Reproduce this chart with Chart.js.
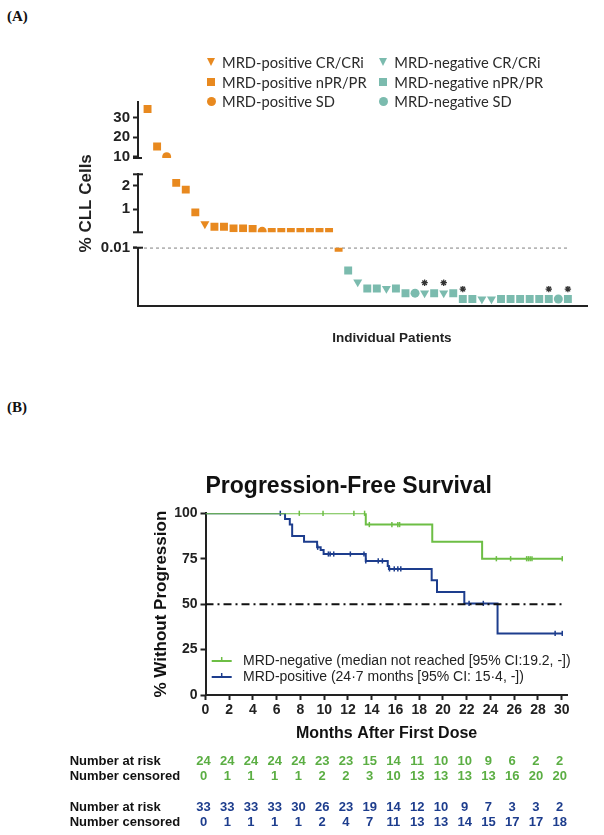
<!DOCTYPE html>
<html>
<head>
<meta charset="utf-8">
<script src="https://cdn.jsdelivr.net/npm/chart.js@4.4.1/dist/chart.umd.min.js"></script>
<style>
  html, body { margin: 0; padding: 0; background: #fff; }
  #page { position: relative; width: 604px; height: 835px; overflow: hidden; }
  .tag { position: absolute; left: 7px; font: bold 15px 'Liberation Serif', 'Times New Roman', serif; color: #111; }
  .box { position: absolute; left: 0; width: 604px; }
  .lg { position: absolute; white-space: nowrap; font: 14.7px Lato, 'Open Sans', sans-serif; color: #2b2b2b; line-height: 18px; }
  .mk { position: absolute; }
  #xTitleA { position: absolute; top: 328px; left: 292px; width: 200px; text-align: center;
             font: bold 13.5px 'Liberation Sans', Arial, sans-serif; color: #222; line-height: 20px; }
</style>
</head>
<body>
<div id="page">
  <div class="tag" style="top:8px">(A)</div>
  <div class="box" style="top:0;height:360px"><canvas id="chartA"></canvas></div>
  <div id="legendA"></div>
  <div id="xTitleA">Individual Patients</div>
  <div class="tag" style="top:399px">(B)</div>
  <div class="box" style="top:450px;height:385px"><canvas id="chartB"></canvas></div>
</div>
<script>
// ---------- Panel A : % CLL cells, one point per patient (x = rank) ----------
const posCRPatients = [7];
const posCRValues = [0.36];
const posPRPatients = [1, 2, 4, 5, 6, 8, 9, 10, 11, 12, 14, 15, 16, 17, 18, 19, 20, 21];
const posPRValues = [34.3, 15.2, 2.13, 1.84, 0.86, 0.24, 0.24, 0.17, 0.17, 0.14, 0.02, 0.02, 0.02, 0.02, 0.02, 0.02, 0.02, 0.01];
const posSDPatients = [3, 13];
const posSDValues = [10, 0.04];
const negCRPatients = [23, 26, 30, 32, 36, 37];
const negCRValues = [0.0041, 0.0030, 0.0022, 0.0022, 0.0012, 0.0012];
const negPRPatients = [22, 24, 25, 27, 28, 31, 33, 34, 35, 38, 39, 40, 41, 42, 43, 45];
const negPRValues = [0.0061, 0.0030, 0.0030, 0.0030, 0.0022, 0.0022, 0.0022, 0.0012, 0.0012, 0.0012, 0.0012, 0.0012, 0.0012, 0.0012, 0.0012, 0.0012];
const negSDPatients = [29, 44];
const negSDValues = [0.0022, 0.0012];
const starPatients = [30, 32, 34, 43, 45];
const starValues = [0.0040, 0.0040, 0.0029, 0.0029, 0.0029];
const detectionLimit = 0.01;
const lastPatient = 45;

// ---------- Panel B : Kaplan-Meier PFS ----------
const negTimes = [0, 13.5, 19.1, 23.3, 30.1];
const negSurv = [100, 93.8, 84.4, 75.0, 75.0];
const negCensor = [7.9, 9.9, 12.5, 13.4, 13.8, 15.7, 16.2, 16.35, 24.5, 25.7, 27.05, 27.2, 27.35, 27.5, 30.05];
const posTimes = [0, 6.7, 7.1, 7.3, 8.3, 9.4, 9.7, 9.95, 13.5, 15.35, 15.45, 19.05, 19.5, 21.8, 24.6, 30.1];
const posSurv = [100, 96.9, 93.8, 87.5, 84.4, 81.3, 79.8, 77.6, 73.8, 71.0, 69.4, 63.1, 56.7, 50.4, 33.9, 33.9];
const posCensor = [6.3, 9.45, 10.35, 10.5, 10.8, 12.2, 13.35, 13.5, 14.55, 14.9, 15.5, 15.9, 16.2, 16.45, 22.2, 23.4, 29.45, 30.05];
const monthTicks = [0, 2, 4, 6, 8, 10, 12, 14, 16, 18, 20, 22, 24, 26, 28, 30];
const negAtRisk = [24, 24, 24, 24, 24, 23, 23, 15, 14, 11, 10, 10, 9, 6, 2, 2];
const negCensored = [0, 1, 1, 1, 1, 2, 2, 3, 10, 13, 13, 13, 13, 16, 20, 20];
const posAtRisk = [33, 33, 33, 33, 30, 26, 23, 19, 14, 12, 10, 9, 7, 3, 3, 2];
const posCensored = [0, 1, 1, 1, 1, 2, 4, 7, 11, 13, 13, 14, 15, 17, 17, 18];
const legendB = ['MRD-negative (median not reached [95% CI:19.2, -])', 'MRD-positive (24\u00b77 months [95% CI: 15\u00b74, -])'];

const ORANGE = '#E8891F';
const TEAL = '#7BBBAE';
const GREEN = '#6DBE45';
const NAVY = '#1D3D8D';
const INK = '#222';
const SANS = "'Liberation Sans', Arial, sans-serif";

Chart.defaults.font.family = SANS;
Chart.defaults.color = INK;

// ---------- Panel A ----------
const categoriesA = [
  { label: 'MRD-positive CR/CRi', patients: posCRPatients, values: posCRValues, color: ORANGE, shape: 'triangle' },
  { label: 'MRD-negative CR/CRi', patients: negCRPatients, values: negCRValues, color: TEAL, shape: 'triangle' },
  { label: 'MRD-positive nPR/PR', patients: posPRPatients, values: posPRValues, color: ORANGE, shape: 'rect' },
  { label: 'MRD-negative nPR/PR', patients: negPRPatients, values: negPRValues, color: TEAL, shape: 'rect' },
  { label: 'MRD-positive SD', patients: posSDPatients, values: posSDValues, color: ORANGE, shape: 'circle' },
  { label: 'MRD-negative SD', patients: negSDPatients, values: negSDValues, color: TEAL, shape: 'circle' }
];

// broken y axis: three segments stacked, with empty spacers between them
const segments = [
  { id: 'yTop', min: 9.3, max: 38, share: 56.3, ticks: [10, 20, 30] },
  { id: 'yGap1', share: 16.3 },
  { id: 'yMid', min: 0, max: 2.5, share: 58, ticks: [1, 2] },
  { id: 'yGap2', share: 15.4 },
  { id: 'yBot', min: 0, max: detectionLimit, share: 58.3, ticks: [detectionLimit] }
];

function axisFor(v) {
  if (v > 2.5) return 'yTop';
  if (v > detectionLimit) return 'yMid';
  return 'yBot';
}

const radiusFor = { rect: 5.6, circle: 4.5, triangle: 5.2 };

let datasetsA = [];
categoriesA.forEach(cat => {
  ['yTop', 'yMid', 'yBot'].forEach(axis => {
    const pts = [];
    cat.patients.forEach((p, i) => {
      if (axisFor(cat.values[i]) === axis) pts.push({ x: p, y: cat.values[i] });
    });
    if (!pts.length) return;
    datasetsA.push({
      label: cat.label,
      yAxisID: axis,
      data: pts,
      pointStyle: cat.shape,
      rotation: cat.shape === 'triangle' ? 180 : 0,
      pointRadius: radiusFor[cat.shape],
      pointBorderWidth: 0,
      backgroundColor: cat.color,
      borderColor: cat.color
    });
  });
});

datasetsA.push({
  label: 'stars',
  yAxisID: 'yBot',
  data: starPatients.map((p, i) => ({ x: p, y: starValues[i] })),
  pointStyle: 'star',
  pointRadius: 3.2,
  borderWidth: 1.3,
  borderColor: '#333',
  backgroundColor: '#333'
});

datasetsA.push({
  type: 'line',
  label: 'limit',
  yAxisID: 'yBot',
  data: [{ x: 0, y: detectionLimit }, { x: lastPatient, y: detectionLimit }],
  borderColor: '#111',
  borderWidth: 1.2,
  borderDash: [3, 3],
  pointRadius: 0
});

const scalesA = {
  x: {
    type: 'linear', min: 0, max: 47,
    grid: { display: false },
    border: { width: 2, color: INK },
    ticks: { display: false },
    afterFit: s => { s.height = 44; s.paddingLeft = 0; s.paddingRight = 0; }
  }
};
segments.forEach((seg, k) => {
  const base = {
    type: 'linear', position: 'left', stack: 'cll', stackWeight: seg.share, weight: segments.length - k,
    afterFit: s => { s.width = 138; s.paddingTop = 0; s.paddingBottom = 0; }
  };
  if (!seg.ticks) {
    scalesA[seg.id] = Object.assign(base, { display: false, min: 0, max: 1 });
    return;
  }
  scalesA[seg.id] = Object.assign(base, {
    min: seg.min, max: seg.max,
    afterBuildTicks: s => { s.ticks = seg.ticks.map(v => ({ value: v })); },
    grid: { drawOnChartArea: false, tickLength: 5, tickWidth: 2, tickColor: INK },
    border: { width: 2, color: INK },
    ticks: { color: INK, padding: 3, autoSkip: false, font: { size: 15, weight: 'bold' }, callback: v => String(v) },
    title: seg.id === 'yMid'
      ? { display: true, text: '% CLL Cells', color: INK, font: { size: 17, weight: 'bold' }, padding: { top: 76.5, bottom: 0 } }
      : { display: false }
  });
});

const axisBreaks = {
  id: 'axisBreaks',
  afterDraw(chart) {
    const ctx = chart.ctx;
    const top = chart.scales.yTop, mid = chart.scales.yMid, bot = chart.scales.yBot;
    const x0 = mid.right;
    ctx.save();
    ctx.strokeStyle = INK;
    ctx.lineWidth = 2;
    const cap = (y, l, r) => { ctx.beginPath(); ctx.moveTo(x0 - l, y); ctx.lineTo(x0 + r, y); ctx.stroke(); };
    cap(top.bottom, 5, 4);
    cap(mid.top, 5, 5);
    cap(mid.bottom, 5, 5);
    cap(bot.top, 5, 5);
    ctx.restore();
  }
};

new Chart(document.getElementById('chartA'), {
  type: 'scatter',
  data: { datasets: datasetsA },
  options: {
    responsive: true,
    maintainAspectRatio: false,
    animation: false,
    layout: { padding: { top: 101.7, right: 17, bottom: 10, left: 0 } },
    plugins: { legend: { display: false }, tooltip: { enabled: false } },
    scales: scalesA
  },
  plugins: [axisBreaks]
});

// legend of panel A (two columns, three rows)
const legendCols = [211, 383.3];
const legendRows = [62, 81.7, 101.3];
const legendEl = document.getElementById('legendA');
categoriesA.forEach((cat, i) => {
  const cx = legendCols[i % 2], cy = legendRows[Math.floor(i / 2)];
  const m = document.createElement('div');
  m.className = 'mk';
  if (cat.shape === 'rect') {
    Object.assign(m.style, { left: (cx - 4) + 'px', top: (cy - 4) + 'px', width: '8px', height: '8px', background: cat.color });
  } else if (cat.shape === 'circle') {
    Object.assign(m.style, { left: (cx - 4.5) + 'px', top: (cy - 4.5) + 'px', width: '9px', height: '9px', borderRadius: '50%', background: cat.color });
  } else {
    Object.assign(m.style, { left: (cx - 4.5) + 'px', top: (cy - 4) + 'px', width: 0, height: 0,
      borderLeft: '4.5px solid transparent', borderRight: '4.5px solid transparent', borderTop: '8px solid ' + cat.color });
  }
  legendEl.appendChild(m);
  const t = document.createElement('div');
  t.className = 'lg';
  t.style.left = (cx + 11) + 'px';
  t.style.top = (cy - 9) + 'px';
  t.textContent = cat.label;
  legendEl.appendChild(t);
});

// ---------- Panel B ----------
function stepAt(times, surv, t) {
  let s = surv[0];
  for (let i = 0; i < times.length; i++) if (times[i] <= t) s = surv[i];
  return s;
}

const groupsB = [
  { label: legendB[0], times: negTimes, surv: negSurv, censor: negCensor, color: GREEN, atRisk: negAtRisk, censored: negCensored },
  { label: legendB[1], times: posTimes, surv: posSurv, censor: posCensor, color: NAVY, atRisk: posAtRisk, censored: posCensored }
];

const datasetsB = [{
  type: 'line',
  label: 'median',
  data: [{ x: 0, y: 50 }, { x: 30.3, y: 50 }],
  borderColor: '#111',
  borderWidth: 2,
  borderDash: [8, 4, 2, 4],
  pointRadius: 0
}];
groupsB.forEach(g => {
  datasetsB.push({
    type: 'line',
    label: g.label,
    data: g.times.map((t, i) => ({ x: t, y: g.surv[i] })),
    stepped: 'before',
    borderColor: g.color,
    borderWidth: 2,
    pointRadius: 0,
    fill: false
  });
  datasetsB.push({
    label: g.label + ' censored',
    data: g.censor.map(t => ({ x: t, y: stepAt(g.times, g.surv, t) })),
    pointStyle: 'line',
    rotation: 90,
    pointRadius: 2.6,
    borderWidth: 1.5,
    borderColor: g.color,
    backgroundColor: g.color,
    clip: false
  });
});

const kmExtras = {
  id: 'kmExtras',
  afterDraw(chart) {
    const ctx = chart.ctx;
    const xs = chart.scales.x;
    const area = chart.chartArea;
    ctx.save();
    // legend inside the plot
    groupsB.forEach((g, i) => {
      const y = area.bottom - 34 + i * 16;
      ctx.strokeStyle = g.color;
      ctx.lineWidth = 2;
      ctx.beginPath(); ctx.moveTo(211.7, y); ctx.lineTo(231.7, y); ctx.stroke();
      ctx.lineWidth = 1.5;
      ctx.beginPath(); ctx.moveTo(221.7, y - 4); ctx.lineTo(221.7, y); ctx.stroke();
      ctx.fillStyle = INK;
      ctx.font = '14px ' + SANS;
      ctx.textAlign = 'left';
      ctx.textBaseline = 'middle';
      ctx.fillText(g.label, 243, y);
    });
    // number at risk table
    const rows = [311.6, 326, 357.3, 372];
    ctx.font = 'bold 13px ' + SANS;
    groupsB.forEach((g, i) => {
      const yRisk = rows[i * 2], yCens = rows[i * 2 + 1];
      ctx.textAlign = 'left';
      ctx.fillStyle = '#111';
      ctx.fillText('Number at risk', 69.7, yRisk);
      ctx.fillText('Number censored', 69.7, yCens);
      ctx.textAlign = 'center';
      ctx.fillStyle = g.color === GREEN ? '#5BAE43' : NAVY;
      monthTicks.forEach((m, k) => {
        const px = xs.getPixelForValue(m) - 2;
        ctx.fillText(String(g.atRisk[k]), px, yRisk);
        ctx.fillText(String(g.censored[k]), px, yCens);
      });
    });
    ctx.restore();
  }
};

new Chart(document.getElementById('chartB'), {
  type: 'scatter',
  data: { datasets: datasetsB },
  options: {
    responsive: true,
    maintainAspectRatio: false,
    animation: false,
    layout: { padding: { top: 0, right: 36.4, bottom: 90, left: 0 } },
    plugins: {
      legend: { display: false },
      tooltip: { enabled: false },
      title: {
        display: true, text: 'Progression-Free Survival', align: 'start', fullSize: false,
        color: '#111', font: { size: 23, weight: 'bold' }, padding: { top: 23, bottom: 12.7 }
      }
    },
    scales: {
      x: {
        type: 'linear', min: 0, max: 30.5,
        afterBuildTicks: s => { s.ticks = monthTicks.map(v => ({ value: v })); },
        grid: { drawOnChartArea: false, tickLength: 5, tickWidth: 2, tickColor: INK },
        border: { width: 2, color: INK },
        ticks: { color: INK, padding: 2, maxRotation: 0, autoSkip: false, font: { size: 14, weight: 'bold' } },
        title: { display: true, text: 'Months After First Dose', color: '#111', font: { size: 16, weight: 'bold' }, padding: { top: 0, bottom: 1.4 } },
        afterFit: s => { s.height = 50; s.paddingLeft = 0; s.paddingRight = 0; }
      },
      y: {
        type: 'linear', min: 0, max: 100,
        ticks: { stepSize: 25, color: INK, padding: 3, font: { size: 14, weight: 'bold' } },
        grid: { drawOnChartArea: false, tickLength: 5, tickWidth: 2, tickColor: INK },
        border: { width: 2, color: INK },
        title: { display: true, text: '% Without Progression', color: '#111', font: { size: 17, weight: 'bold' }, padding: { top: 151.5, bottom: 0 } },
        afterFit: s => { s.width = 205.5; s.paddingTop = 0; s.paddingBottom = 0; }
      }
    }
  },
  plugins: [kmExtras]
});
</script>
</body>
</html>
